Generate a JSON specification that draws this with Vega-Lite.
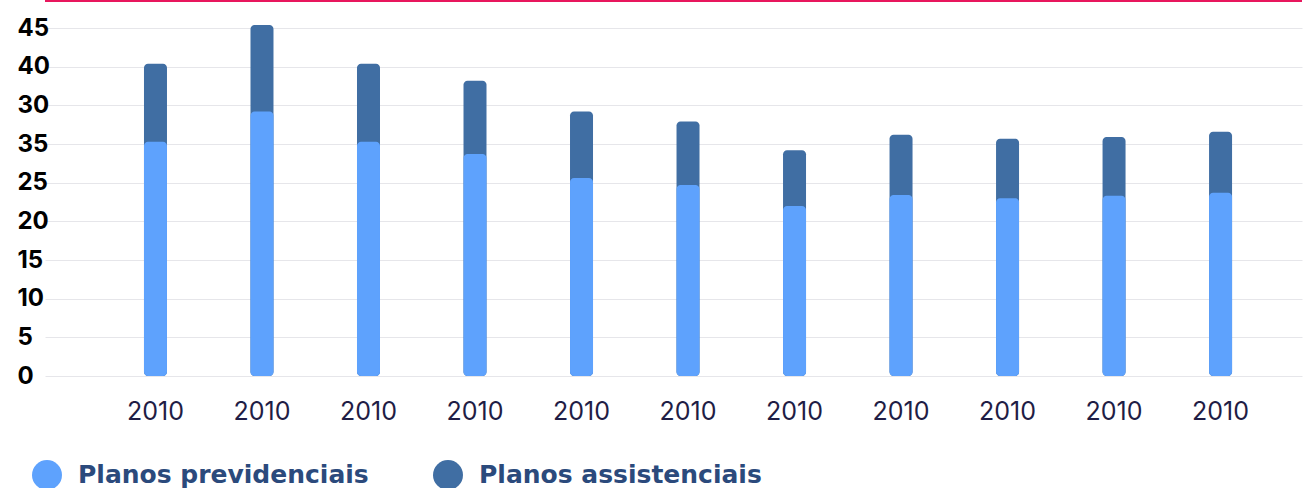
{
  "$schema": "https://vega.github.io/schema/vega-lite/v6.json",
  "autosize": "none",
  "width": 1257,
  "height": 375,
  "padding": {"left": 45, "top": 1, "right": 2, "bottom": 112},
  "background": "white",
  "config": {
    "view": {"stroke": null},
    "font": "Inter"
  },
  "data": {
    "values": [
      {"i": 1, "ano": "2010", "serie": "Planos previdenciais", "valor": 30.3},
      {"i": 1, "ano": "2010", "serie": "Planos assistenciais", "valor": 10.1},
      {"i": 2, "ano": "2010", "serie": "Planos previdenciais", "valor": 34.2},
      {"i": 2, "ano": "2010", "serie": "Planos assistenciais", "valor": 11.2},
      {"i": 3, "ano": "2010", "serie": "Planos previdenciais", "valor": 30.3},
      {"i": 3, "ano": "2010", "serie": "Planos assistenciais", "valor": 10.1},
      {"i": 4, "ano": "2010", "serie": "Planos previdenciais", "valor": 28.7},
      {"i": 4, "ano": "2010", "serie": "Planos assistenciais", "valor": 9.5},
      {"i": 5, "ano": "2010", "serie": "Planos previdenciais", "valor": 25.6},
      {"i": 5, "ano": "2010", "serie": "Planos assistenciais", "valor": 8.6},
      {"i": 6, "ano": "2010", "serie": "Planos previdenciais", "valor": 24.7},
      {"i": 6, "ano": "2010", "serie": "Planos assistenciais", "valor": 8.2},
      {"i": 7, "ano": "2010", "serie": "Planos previdenciais", "valor": 22.0},
      {"i": 7, "ano": "2010", "serie": "Planos assistenciais", "valor": 7.2},
      {"i": 8, "ano": "2010", "serie": "Planos previdenciais", "valor": 23.4},
      {"i": 8, "ano": "2010", "serie": "Planos assistenciais", "valor": 7.8},
      {"i": 9, "ano": "2010", "serie": "Planos previdenciais", "valor": 23.0},
      {"i": 9, "ano": "2010", "serie": "Planos assistenciais", "valor": 7.7},
      {"i": 10, "ano": "2010", "serie": "Planos previdenciais", "valor": 23.3},
      {"i": 10, "ano": "2010", "serie": "Planos assistenciais", "valor": 7.6},
      {"i": 11, "ano": "2010", "serie": "Planos previdenciais", "valor": 23.7},
      {"i": 11, "ano": "2010", "serie": "Planos assistenciais", "valor": 7.9}
    ]
  },
  "layer": [
    {
      "mark": {"type": "bar", "width": 23, "cornerRadius": 4},
      "encoding": {
        "x": {
          "field": "i",
          "type": "ordinal",
          "title": null,
          "scale": {"paddingInner": 0, "paddingOuter": 0.401, "align": 0.67},
          "axis": {
            "labelExpr": "'2010'",
            "labelAngle": 0,
            "domain": false,
            "ticks": false,
            "tickSize": 0,
            "grid": false,
            "labelPadding": 23,
            "labelFont": "Inter",
            "labelFontSize": 25,
            "labelFontWeight": "normal",
            "labelColor": "#1f1d45"
          }
        },
        "y": {
          "aggregate": "sum",
          "field": "valor",
          "type": "quantitative",
          "stack": null,
          "title": null,
          "scale": {"domain": [0, 48.5], "nice": false, "zero": true},
          "axis": {
            "values": [0, 5, 10, 15, 20, 25, 30, 35, 40, 45],
            "labelExpr": "datum.value == 30 ? '35' : datum.value == 35 ? '30' : datum.label",
            "domain": false,
            "ticks": false,
            "tickSize": 0,
            "grid": true,
            "gridColor": "#e6e6ea",
            "gridWidth": 1,
            "labelAlign": "left",
            "labelBaseline": "middle",
            "labelPadding": 28,
            "labelFont": "Inter",
            "labelFontSize": 24,
            "labelFontWeight": "bold",
            "labelColor": "#000000"
          }
        },
        "color": {"datum": "Planos assistenciais"}
      }
    },
    {
      "transform": [{"filter": "datum.serie == 'Planos previdenciais'"}],
      "mark": {"type": "bar", "width": 23, "cornerRadius": 4},
      "encoding": {
        "x": {"field": "i", "type": "ordinal"},
        "y": {"field": "valor", "type": "quantitative", "stack": null},
        "color": {
          "field": "serie",
          "type": "nominal",
          "scale": {
            "domain": ["Planos previdenciais", "Planos assistenciais"],
            "range": ["#5ea2fd", "#406ea3"]
          },
          "legend": {
            "title": null,
            "orient": "none",
            "direction": "horizontal",
            "legendX": -13,
            "legendY": 459,
            "padding": 0,
            "symbolType": "circle",
            "symbolSize": 900,
            "symbolStrokeWidth": 0,
            "labelFont": "DejaVu Sans",
            "labelFontSize": 25,
            "labelFontWeight": "bold",
            "labelColor": "#2b4a7c",
            "labelOffset": 16,
            "labelLimit": 400,
            "columnPadding": 64
          }
        }
      }
    },
    {
      "data": {"values": [{"top": 48.5}]},
      "mark": {"type": "rule", "color": "#e8175d", "strokeWidth": 2},
      "encoding": {"y": {"field": "top", "type": "quantitative"}}
    }
  ]
}
